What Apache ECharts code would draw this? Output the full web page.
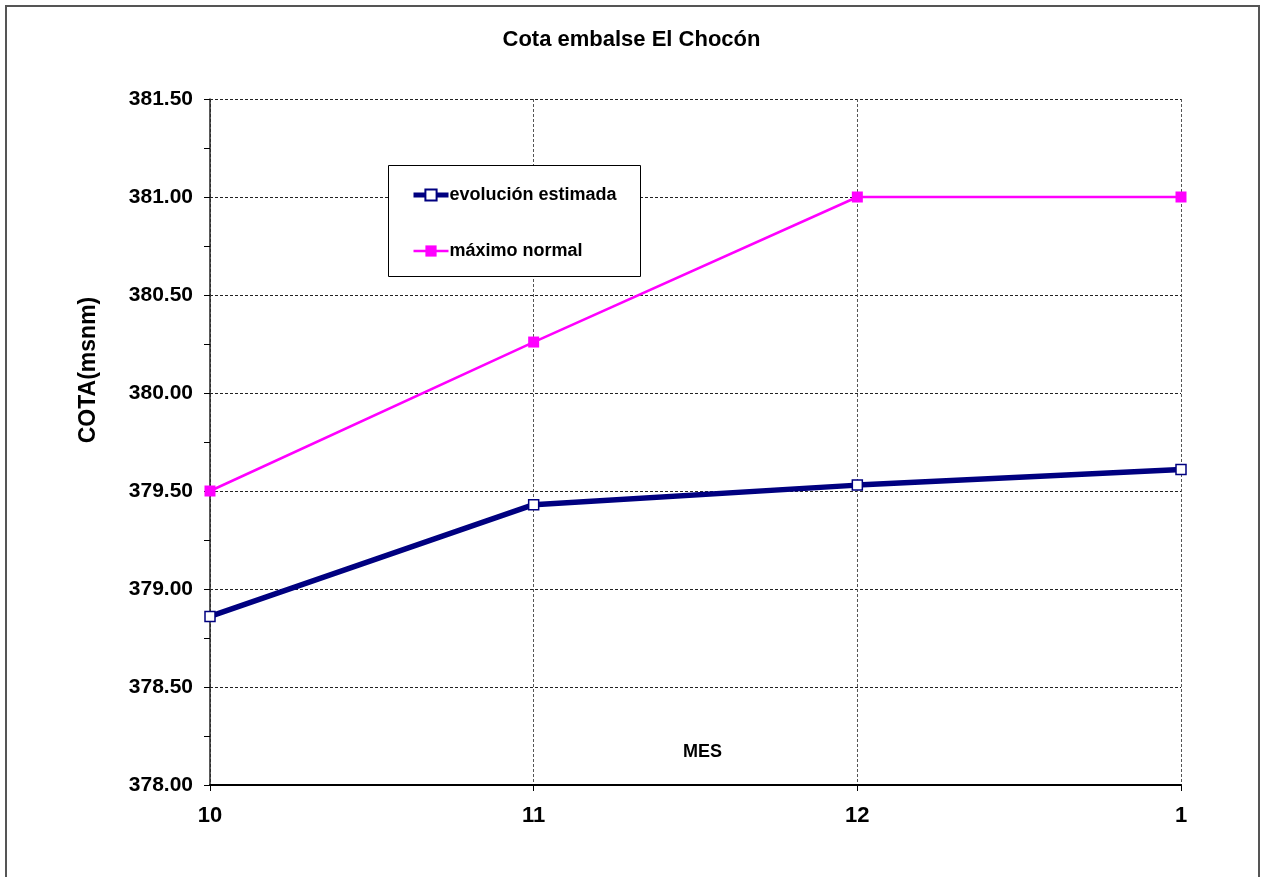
<!DOCTYPE html>
<html><head><meta charset="utf-8">
<script src="https://cdn.jsdelivr.net/npm/echarts@6/dist/echarts.min.js"></script>
<style>html,body{margin:0;padding:0;background:#fff}#c{width:1263px;height:877px}</style>
</head><body><div id="c"></div>
<script>
const categories = ['10', '11', '12', '1'];
const evolucionEstimada = [378.86, 379.43, 379.53, 379.61];
const maximoNormal = [379.50, 380.26, 381.00, 381.00];
const yTicks = { min: 378.0, max: 381.5, interval: 0.5 };

const chart = echarts.init(document.getElementById('c'));
const font = 'Liberation Sans, Arial, sans-serif';
chart.setOption({
  backgroundColor: '#fff',
  animation: false,
  title: { text: 'Cota embalse El Chocón', left: 'center', top: 24,
    textStyle: { fontFamily: font, fontWeight: 'bold', fontSize: 22, color: '#000' } },
  grid: { left: 210, right: 82, top: 99, bottom: 92 },
  legend: {
    left: 406, top: 181, orient: 'vertical', itemGap: 38, itemWidth: 35, itemHeight: 14,
    textStyle: { fontFamily: font, fontWeight: 'bold', fontSize: 18, lineHeight: 18, color: '#000', padding: [0,0,0,-4] },
    data: [
      { name: 'evolución estimada', lineStyle: { width: 5 } },
      { name: 'máximo normal', lineStyle: { width: 2.5 } }
    ]
  },
  xAxis: {
    type: 'category', data: categories, boundaryGap: false,
    name: 'MES', nameLocation: 'middle', nameGap: -42,
    nameTextStyle: { fontFamily: font, fontWeight: 'bold', fontSize: 18, color: '#000', padding: [0,0,0,14] },
    axisLine: { lineStyle: { color: '#000', width: 2 } },
    axisTick: { show: true, length: 6, lineStyle: { color: '#000' } },
    axisLabel: { margin: 20, fontFamily: font, fontWeight: 'bold', fontSize: 22, color: '#000' },
    splitLine: { show: true, lineStyle: { color: '#555', type: [3, 2], width: 1 } }
  },
  yAxis: {
    type: 'value', min: yTicks.min, max: yTicks.max, interval: yTicks.interval,
    axisLine: { show: true, lineStyle: { color: '#222', width: 1.5 } },
    axisTick: { show: true, length: 6, lineStyle: { color: '#000' } },
    minorTick: { show: true, splitNumber: 2, length: 6, lineStyle: { color: '#000' } },
    axisLabel: { margin: 17, fontFamily: font, fontWeight: 'bold', fontSize: 21, color: '#000',
      formatter: v => v.toFixed(2) },
    splitLine: { show: true, lineStyle: { color: '#222', type: [3, 2], width: 1 } }
  },
  series: [
    { name: 'evolución estimada', type: 'line', data: evolucionEstimada,
      symbol: 'rect', symbolSize: 10, z: 3,
      lineStyle: { color: '#000080', width: 5.5 },
      itemStyle: { color: '#fff', borderColor: '#000080', borderWidth: 1.5 } },
    { name: 'máximo normal', type: 'line', data: maximoNormal,
      symbol: 'rect', symbolSize: 11, z: 3,
      lineStyle: { color: '#FF00FF', width: 2.5 },
      itemStyle: { color: '#FF00FF', borderColor: '#FF00FF', borderWidth: 0 } }
  ],
  graphic: [
    { type: 'rect', shape: { x: 6, y: 6, width: 1253, height: 880 }, z: 0,
      style: { fill: 'none', stroke: '#555', lineWidth: 2 } },
    { type: 'rect', shape: { x: 388.5, y: 165.5, width: 252, height: 111 }, z: 10,
      style: { fill: 'none', stroke: '#000', lineWidth: 1 } },
    { type: 'rect', shape: { x: 389, y: 166, width: 251, height: 110 }, z: 1,
      style: { fill: '#fff' } },
    { type: 'text', x: 89, y: 370, rotation: Math.PI / 2, z: 10,
      style: { text: 'COTA(msnm)', fontFamily: font, fontWeight: 'bold', fontSize: 23,
        fill: '#000', align: 'center', verticalAlign: 'middle' } }
  ]
});
</script></body></html>
